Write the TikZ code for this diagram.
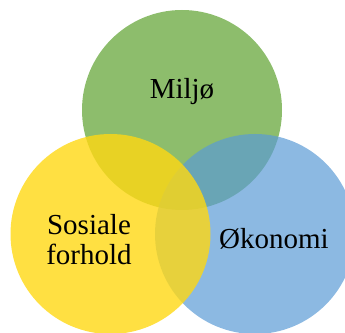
\documentclass[tikz,border=0pt]{standalone}
\usepackage{fontspec}
\setmainfont{Liberation Serif}
\definecolor{MiljoGreen}{HTML}{70AD47}
\definecolor{SosialYellow}{RGB}{255,216,19}
\definecolor{OkonomiBlue}{HTML}{5B9BD5}
\tikzset{
  venn style/.style={
    x=1pt, y=1pt,
  },
  circle set/.style={
    fill=#1,
    circle,
    inner sep=0pt,
    minimum size=200pt,
  },
  set green/.style={
    circle set=MiljoGreen,
    fill opacity=0.8,
  },
  set blue/.style={
    circle set=OkonomiBlue,
    fill opacity=0.7,
  },
  set yellow/.style={
    circle set=SosialYellow,
    fill opacity=0.8,
  },
  set label/.style={
    font=\fontsize{29}{30}\selectfont,
    inner sep=0pt,
    align=center,
  },
}

\begin{document}
\begin{tikzpicture}[venn style]
  \useasboundingbox (0,0) rectangle (345,332);
  \clip (0,0) rectangle (345,332);
  \node[set green] (miljo) at (182,222) {};
  \node[set blue] (okonomi) at (255,98) {};
  \node[set yellow] (sosial) at (110.5,98) {};
  \node[set label, anchor=base] (miljolabel) at (182,233) {Miljø};
  \node[set label] (sosiallabel) at (89,92) {Sosiale\\forhold};
  \node[set label, anchor=base] (okonomilabel) at (274,84) {Økonomi};
\end{tikzpicture}
\end{document}
